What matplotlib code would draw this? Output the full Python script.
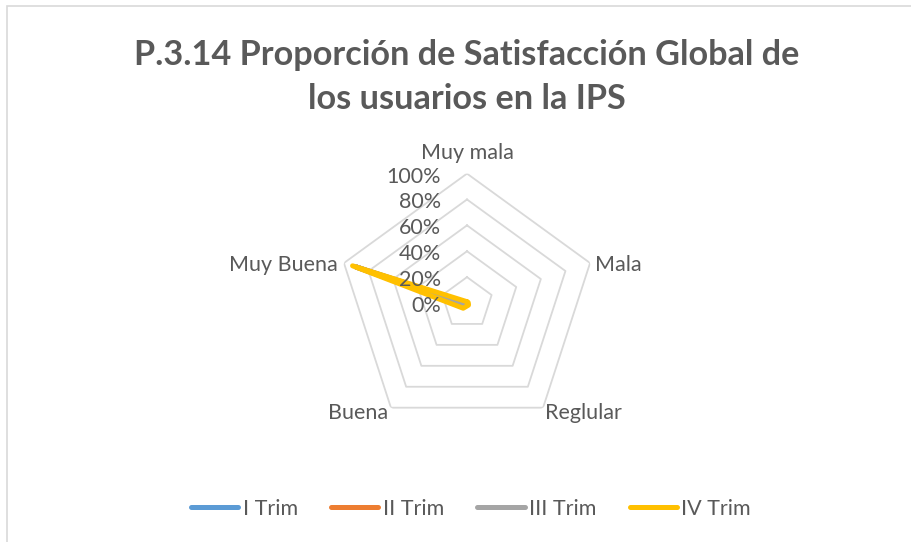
import numpy as np
import matplotlib
matplotlib.use('Agg')
import matplotlib.pyplot as plt
from matplotlib.lines import Line2D
from matplotlib.patches import Rectangle

categories = ['Muy mala', 'Mala', 'Reglular', 'Buena', 'Muy Buena']
series_names = ['I Trim', 'II Trim', 'III Trim', 'IV Trim']
i_trim = [0.0, 0.0, 0.01, 0.03, 0.90]
ii_trim = [0.0, 0.0, 0.01, 0.03, 0.90]
iii_trim = [0.0, 0.0, 0.0, 0.03, 0.90]
iv_trim = [0.01, 0.01, 0.02, 0.05, 0.93]
tick_values = [0, 0.2, 0.4, 0.6, 0.8, 1.0]
tick_labels = ['0%', '20%', '40%', '60%', '80%', '100%']
title = 'P.3.14 Proporción de Satisfacción Global de\nlos usuarios en la IPS'
colors = ['#5B9BD5', '#ED7D31', '#A5A5A5', '#FFC000']
series = [i_trim, ii_trim, iii_trim, iv_trim]

TXT = '#595959'
FONT = 'Lato'
plt.rcParams['font.family'] = [FONT, 'DejaVu Sans']

W, H = 911, 542
fig = plt.figure(figsize=(W / 100, H / 100), dpi=100)
fig.patches.append(Rectangle((7 / W, -0.5), 2, (H - 6) / H + 0.5, transform=fig.transFigure,
                             fill=False, ec='#D9D9D9', lw=1.2))

cx, cy, R = 467, H - 303, 129.4
ax = fig.add_axes([(cx - R) / W, (cy - R) / H, 2 * R / W, 2 * R / H], projection='polar')
ax.set_theta_offset(np.pi / 2)
ax.set_theta_direction(-1)
ax.set_ylim(0, 1)
ax.axis('off')

n = len(categories)
angles = np.arange(n) * 2 * np.pi / n
closed = np.append(angles, angles[0])
for t in tick_values[1:]:
    ax.plot(closed, [t] * (n + 1), color='#D9D9D9', lw=1.3, zorder=1)

for vals, col in zip(series, colors):
    ax.plot(closed, list(vals) + [vals[0]], color=col, lw=3.6,
            solid_joinstyle='round', solid_capstyle='round', zorder=3)

lab_fs = 15.5
for v, lab in zip(tick_values, tick_labels):
    ax.annotate(lab, xy=(0, v), xytext=(-26, -3), textcoords='offset pixels',
                ha='right', va='center', fontsize=lab_fs, color=TXT, annotation_clip=False)

cat_offsets = [(0, 21, 'center'), (5, -2, 'left'), (2, -5, 'left'), (-3, -5, 'right'), (-6, -2, 'right')]
for a, lab, (dx, dy, ha) in zip(angles, categories, cat_offsets):
    ax.annotate(lab, xy=(a, 1.0), xytext=(dx, dy), textcoords='offset pixels',
                ha=ha, va='center', fontsize=lab_fs, color=TXT, annotation_clip=False)

fig.text(cx / W, 1 - 77 / H, title, ha='center', va='center', fontsize=24.7,
         fontweight='bold', color=TXT, linespacing=1.45)

handles = [Line2D([], [], color=c, lw=3.6, solid_capstyle='round') for c in colors]
fig.legend(handles, series_names, loc='center', bbox_to_anchor=(471 / W, (H - 509) / H),
           ncol=4, frameon=False, fontsize=lab_fs, handlelength=2.2, handletextpad=0.2,
           columnspacing=1.55, labelcolor=TXT)

fig.savefig('out.png', dpi=100)
